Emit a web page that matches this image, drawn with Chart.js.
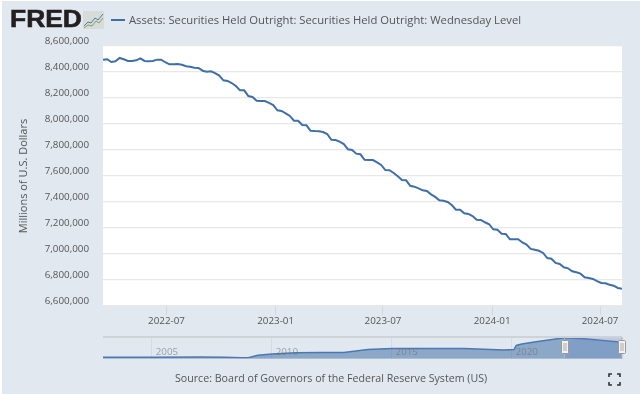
<!DOCTYPE html>
<html>
<head>
<meta charset="utf-8">
<title>Assets: Securities Held Outright</title>
<script src="https://cdn.jsdelivr.net/npm/chart.js@4"></script>
<style>
html, body { margin: 0; padding: 0; background: #fff; }
#page { position: absolute; left: 2px; top: 1px; width: 638px; height: 393px; background: #e1e8f0; overflow: hidden; }
canvas { position: absolute; left: 0; }
.txt { position: absolute; font-family: "Open Sans", sans-serif; color: #555; white-space: nowrap; }
#logo { left: 8px; top: 4px; font: bold 24px "Liberation Sans", sans-serif; color: #231f20; -webkit-text-stroke: 0.6px #231f20; transform: scaleX(1.1); transform-origin: left top; }
#legendKey { position: absolute; left: 109px; top: 18px; width: 14px; height: 2px; background: #3f6fa9; }
#legendText { left: 127px; top: 11px; font-size: 11.25px; }
#source { left: 173px; top: 370px; font-size: 10.65px; }
#icon { position: absolute; left: 81px; top: 10px; }
#full { position: absolute; left: 606px; top: 372px; }
</style>
</head>
<body>
<div id="page">
  <div class="txt" id="logo">FRED</div>
  <svg id="icon" width="21" height="18">
    <rect width="21" height="18" fill="#d8dcd8"/>
    <polyline points="1,15 5,11 8,12 12,7 15,9 20,3" fill="none" stroke="#4f79ac" stroke-width="1"/>
    <polyline points="1,17 5,14 9,15 13,10 16,12 20,7" fill="none" stroke="#7fa35a" stroke-width="1"/>
  </svg>
  <div id="legendKey"></div>
  <div class="txt" id="legendText">Assets: Securities Held Outright: Securities Held Outright: Wednesday Level</div>
  <div class="txt" id="source">Source: Board of Governors of the Federal Reserve System (US)</div>
  <svg id="full" width="13" height="13" fill="none" stroke="#333" stroke-width="1.6">
    <path d="M1 4V1H4M9 1H12V4M12 9V12H9M4 12H1V9"/>
  </svg>
</div>
<script>
const fechas = [
  '2022-03-16','2022-03-23','2022-03-30','2022-04-06','2022-04-13','2022-04-20','2022-04-27','2022-05-04','2022-05-11','2022-05-18',
  '2022-05-25','2022-06-01','2022-06-08','2022-06-15','2022-06-22','2022-06-29','2022-07-06','2022-07-13','2022-07-20','2022-07-27',
  '2022-08-03','2022-08-10','2022-08-17','2022-08-24','2022-08-31','2022-09-07','2022-09-14','2022-09-21','2022-09-28','2022-10-05',
  '2022-10-12','2022-10-19','2022-10-26','2022-11-02','2022-11-09','2022-11-16','2022-11-23','2022-11-30','2022-12-07','2022-12-14',
  '2022-12-21','2022-12-28','2023-01-04','2023-01-11','2023-01-18','2023-01-25','2023-02-01','2023-02-08','2023-02-15','2023-02-22',
  '2023-03-01','2023-03-08','2023-03-15','2023-03-22','2023-03-29','2023-04-05','2023-04-12','2023-04-19','2023-04-26','2023-05-03',
  '2023-05-10','2023-05-17','2023-05-24','2023-05-31','2023-06-07','2023-06-14','2023-06-21','2023-06-28','2023-07-05','2023-07-12',
  '2023-07-19','2023-07-26','2023-08-02','2023-08-09','2023-08-16','2023-08-23','2023-08-30','2023-09-06','2023-09-13','2023-09-20',
  '2023-09-27','2023-10-04','2023-10-11','2023-10-18','2023-10-25','2023-11-01','2023-11-08','2023-11-15','2023-11-22','2023-11-29',
  '2023-12-06','2023-12-13','2023-12-20','2023-12-27','2024-01-03','2024-01-10','2024-01-17','2024-01-24','2024-01-31','2024-02-07',
  '2024-02-14','2024-02-21','2024-02-28','2024-03-06','2024-03-13','2024-03-20','2024-03-27','2024-04-03','2024-04-10','2024-04-17',
  '2024-04-24','2024-05-01','2024-05-08','2024-05-15','2024-05-22','2024-05-29','2024-06-05','2024-06-12','2024-06-19','2024-06-26',
  '2024-07-03','2024-07-10','2024-07-17','2024-07-24','2024-07-31','2024-08-07'
];

// millions of dollars
const valores = [
  8495000,8498000,8477000,8482000,8508000,8498000,8485000,8485000,8490000,8505000,
  8485000,8482000,8485000,8495000,8495000,8475000,8459000,8459000,8462000,8456000,
  8444000,8441000,8433000,8431000,8410000,8402000,8405000,8392000,8372000,8336000,
  8331000,8315000,8292000,8259000,8259000,8215000,8208000,8179000,8177000,8177000,
  8162000,8146000,8105000,8100000,8082000,8062000,8025000,8025000,7992000,7990000,
  7948000,7946000,7945000,7938000,7923000,7879000,7877000,7864000,7846000,7805000,
  7800000,7772000,7767000,7725000,7723000,7723000,7705000,7685000,7646000,7644000,
  7623000,7598000,7569000,7567000,7525000,7518000,7505000,7490000,7485000,7459000,
  7439000,7413000,7410000,7400000,7377000,7341000,7341000,7313000,7308000,7292000,
  7264000,7262000,7244000,7229000,7190000,7187000,7156000,7154000,7113000,7113000,
  7113000,7089000,7072000,7039000,7033000,7025000,7008000,6969000,6964000,6931000,
  6923000,6898000,6890000,6867000,6859000,6849000,6821000,6815000,6808000,6792000,
  6777000,6775000,6764000,6756000,6739000,6733000
];

const ticksX = ['2022-07-01','2023-01-01','2023-07-01','2024-01-01','2024-07-01'];
const ticksY = [6600000,6800000,7000000,7200000,7400000,7600000,7800000,8000000,8200000,8400000,8600000];

// navigator series, whole history
const navFechas = ['2002-12-18','2005-01-05','2007-01-03','2008-01-02','2008-10-01','2009-01-07','2009-06-03','2010-01-06','2011-01-05','2012-01-04','2013-01-02','2014-01-01','2015-01-07','2018-01-03','2019-09-04','2020-02-05','2020-03-11','2020-06-03','2021-01-06','2022-03-16','2023-01-04','2024-08-07'];
const navValores = [650000,700000,780000,740000,480000,500000,1500000,2000000,2500000,2600000,2600000,3800000,4200000,4200000,3600000,3800000,5400000,6000000,6900000,8495000,8100000,6733000];
const navTicks = ['2005-01-01','2010-01-01','2015-01-01','2020-01-01'];
const navInicio = '2022-03-16';
const navFin = '2024-08-07';

const ms = function (d) { return Date.parse(d + 'T00:00:00Z'); };
const fuente = '"Open Sans", sans-serif';
const azul = '#3f6fa9';

const fondoBlanco = {
    id: 'fondoBlanco',
    beforeDraw: function (chart) {
        const a = chart.chartArea;
        chart.ctx.fillStyle = '#fff';
        chart.ctx.fillRect(a.left, a.top, a.width, a.height);
    }
};

const configMain = {
    type: 'line',
    data: {
        datasets: [{
            label: 'Assets: Securities Held Outright: Securities Held Outright: Wednesday Level',
            data: fechas.map(function (f, i) { return { x: ms(f), y: valores[i] }; }),
            borderColor: azul,
            borderWidth: 2,
            pointRadius: 0,
            tension: 0,
            fill: false
        }]
    },
    options: {
        responsive: false,
        animation: false,
        layout: { padding: { left: 0, top: 45, right: 18, bottom: 0 } },
        plugins: { legend: { display: false }, tooltip: { enabled: false } },
        scales: {
            x: {
                type: 'linear',
                min: ms(fechas[0]),
                max: ms(fechas[fechas.length - 1]),
                afterBuildTicks: function (axis) {
                    axis.ticks = ticksX.map(function (f) { return { value: ms(f) }; });
                },
                afterFit: function (axis) { axis.height = 88; },
                grid: { drawOnChartArea: false, color: '#cdd8e6', tickLength: 9 },
                border: { display: false },
                ticks: {
                    autoSkip: false,
                    maxRotation: 0,
                    padding: 0,
                    color: '#555',
                    font: { family: fuente, size: 9.8 },
                    callback: function (v) { return new Date(v).toISOString().substr(0, 7); }
                }
            },
            y: {
                min: 6600000,
                max: 8600000,
                afterBuildTicks: function (axis) {
                    axis.ticks = ticksY.map(function (v) { return { value: v }; });
                },
                afterFit: function (axis) { axis.width = 101; },
                grid: { color: '#e8e8e8', lineWidth: 1.3, drawTicks: false },
                border: { display: false },
                title: {
                    display: true,
                    text: 'Millions of U.S. Dollars',
                    color: '#555',
                    font: { family: fuente, size: 11 },
                    padding: { top: 15, bottom: 0 }
                },
                ticks: {
                    padding: 14,
                    labelOffset: -5,
                    color: '#555',
                    font: { family: fuente, size: 9.8 },
                    callback: function (v) { return v.toLocaleString('en-US'); }
                }
            }
        }
    },
    plugins: [fondoBlanco]
};

// selected range, its two handles and the year labels on the navigator
const seleccion = {
    id: 'seleccion',
    afterDraw: function (chart) {
        const ctx = chart.ctx;
        const a = chart.chartArea;
        const esc = chart.scales.x;
        const x1 = esc.getPixelForValue(ms(navInicio));
        const x2 = esc.getPixelForValue(ms(navFin));
        ctx.save();
        ctx.font = '9.8px ' + fuente;
        ctx.fillStyle = 'rgba(110,110,110,0.6)';
        ctx.textAlign = 'center';
        ctx.textBaseline = 'middle';
        esc.ticks.forEach(function (t) {
            ctx.fillText(new Date(t.value).toISOString().substr(0, 4), esc.getPixelForValue(t.value) + 15, a.bottom - 7);
        });
        ctx.fillStyle = 'rgba(102,133,194,0.3)';
        ctx.fillRect(x1, a.top, x2 - x1, a.height);
        ctx.fillStyle = '#cfd3d8';
        ctx.fillRect(a.left, a.top - 1, a.width, 2);
        ctx.fillRect(a.left, a.bottom - 0.5, a.width, 1);
        [x1, x2].forEach(function (x) {
            ctx.fillStyle = '#b5b5b5';
            ctx.fillRect(x - 0.5, a.top, 1, a.height);
            ctx.fillStyle = '#f2f2f2';
            ctx.strokeStyle = '#999';
            ctx.lineWidth = 1;
            ctx.beginPath();
            ctx.roundRect(Math.round(x) - 3.5, a.top + 3.5, 7, 13, 1);
            ctx.fill();
            ctx.stroke();
            ctx.strokeStyle = '#aaa';
            ctx.beginPath();
            ctx.moveTo(Math.round(x) - 1, a.top + 6);
            ctx.lineTo(Math.round(x) - 1, a.top + 14);
            ctx.moveTo(Math.round(x) + 1, a.top + 6);
            ctx.lineTo(Math.round(x) + 1, a.top + 14);
            ctx.stroke();
        });
        ctx.restore();
    }
};

const configNav = {
    type: 'line',
    data: {
        datasets: [{
            data: navFechas.map(function (f, i) { return { x: ms(f), y: navValores[i] }; }),
            borderColor: '#4b78b0',
            backgroundColor: 'rgba(69,114,167,0.55)',
            borderWidth: 1.5,
            pointRadius: 0,
            tension: 0,
            fill: 'origin'
        }]
    },
    options: {
        responsive: false,
        animation: false,
        layout: { padding: { left: 101, top: 6, right: 18, bottom: 0 } },
        plugins: { legend: { display: false }, tooltip: { enabled: false } },
        scales: {
            x: {
                type: 'linear',
                min: ms(navFechas[0]),
                max: ms(navFechas[navFechas.length - 1]),
                afterBuildTicks: function (axis) {
                    axis.ticks = navTicks.map(function (f) { return { value: ms(f) }; });
                },
                afterFit: function (axis) { axis.height = 0; },
                grid: { color: '#d3dbe6', drawTicks: false },
                border: { display: false },
                ticks: { display: false }
            },
            y: { display: false, min: 0, max: 8800000 }
        }
    },
    plugins: [seleccion]
};

const canvasMain = document.createElement('canvas');
canvasMain.width = 638; canvasMain.height = 393;
canvasMain.style.top = '0px';
const canvasNav = document.createElement('canvas');
canvasNav.width = 638; canvasNav.height = 28;
canvasNav.style.top = '330px';
const page = document.getElementById('page');
page.insertBefore(canvasMain, page.firstChild);
page.insertBefore(canvasNav, canvasMain.nextSibling);

new Chart(canvasMain, configMain);
new Chart(canvasNav, configNav);
</script>
</body>
</html>
